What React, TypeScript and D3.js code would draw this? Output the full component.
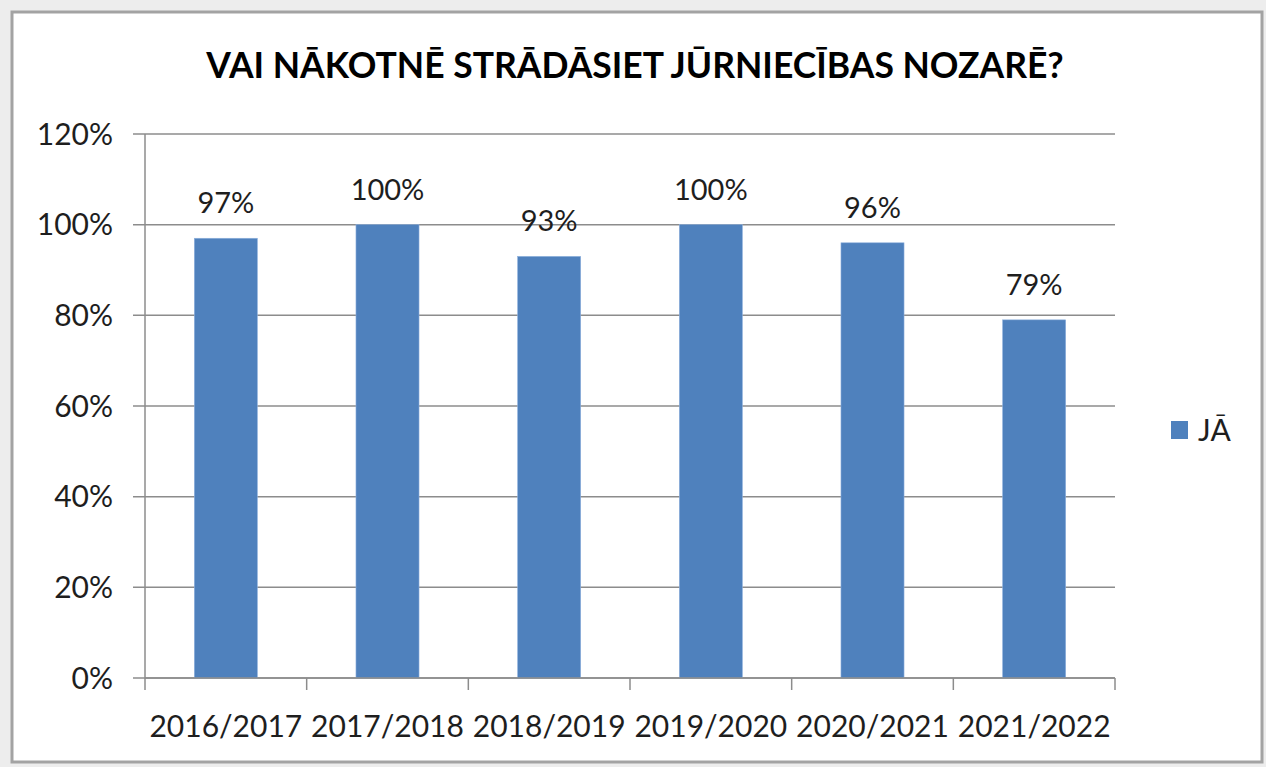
import React from "react";
import * as d3 from "d3";

const categories = ["2016/2017", "2017/2018", "2018/2019", "2019/2020", "2020/2021", "2021/2022"];
const valuesJa = [0.97, 1.0, 0.93, 1.0, 0.96, 0.79];
const yTicks = [0, 0.2, 0.4, 0.6, 0.8, 1.0, 1.2];
const seriesName = "JĀ";
const title = "VAI NĀKOTNĒ STRĀDĀSIET JŪRNIECĪBAS NOZARĒ?";

const width = 1266;
const height = 767;
const margin = { top: 134, right: 151, bottom: 89, left: 145 };
const font = "Lato, Carlito, 'Open Sans', sans-serif";
const barColor = "#4f81bd";
const gridColor = "#8c8c8c";
const textColor = "#1e1e1e";

const App: React.FC = () => {
  const x = d3
    .scaleBand()
    .domain(categories)
    .range([margin.left, width - margin.right])
    .paddingInner(0.61)
    .paddingOuter(0.305);

  const y = d3
    .scaleLinear()
    .domain([0, 1.2])
    .range([height - margin.bottom, margin.top]);

  const step = x.step();
  const fmt = d3.format(".0%");
  const x0 = margin.left;
  const x1 = width - margin.right;
  const yBase = y(0);

  return (
    <svg
      width={width}
      height={height}
      style={{ position: "absolute", left: 0, top: 0, background: "#ededed" }}
    >
      <rect x={12} y={12} width={1250} height={750} fill="#ffffff" stroke="#a3a3a3" strokeWidth={3} />

      <text
        x={635}
        y={78}
        textAnchor="middle"
        fontFamily={font}
        fontWeight="bold"
        fontSize={35.5}
        fill="#000"
      >
        {title}
      </text>

      {/* gridlines + y tick labels */}
      {yTicks.map((t) => (
        <g key={t}>
          <line x1={x0 - 12} x2={x1} y1={y(t)} y2={y(t)} stroke={gridColor} strokeWidth={1.5} />
          <text
            x={x0 - 32}
            y={y(t)}
            dy="0.36em"
            textAnchor="end"
            fontFamily={font}
            fontSize={30}
            fill={textColor}
          >
            {fmt(t)}
          </text>
        </g>
      ))}

      {/* y axis */}
      <line x1={x0} x2={x0} y1={y(1.2)} y2={yBase} stroke={gridColor} strokeWidth={1.5} />

      {/* bars */}
      {categories.map((c, i) => (
        <rect
          key={c}
          x={x(c)!}
          y={y(valuesJa[i])}
          width={x.bandwidth()}
          height={yBase - y(valuesJa[i])}
          fill={barColor}
          stroke="#8eb0dc"
          strokeWidth={0.6}
        />
      ))}

      {/* data labels */}
      {categories.map((c, i) => (
        <text
          key={c}
          x={x(c)! + x.bandwidth() / 2}
          y={y(valuesJa[i]) - 25}
          textAnchor="middle"
          fontFamily={font}
          fontSize={29}
          fill={textColor}
        >
          {fmt(valuesJa[i])}
        </text>
      ))}

      {/* x axis */}
      <line x1={x0} x2={x1} y1={yBase} y2={yBase} stroke={gridColor} strokeWidth={1.5} />
      {d3.range(categories.length + 1).map((k) => (
        <line
          key={k}
          x1={x0 + k * step}
          x2={x0 + k * step}
          y1={yBase}
          y2={yBase + 12}
          stroke={gridColor}
          strokeWidth={1.5}
        />
      ))}
      {categories.map((c) => (
        <text
          key={c}
          x={x(c)! + x.bandwidth() / 2}
          y={737}
          textAnchor="middle"
          fontFamily={font}
          fontSize={30}
          fill={textColor}
        >
          {c}
        </text>
      ))}

      {/* legend */}
      <rect x={1171} y={421} width={17} height={18} fill={barColor} />
      <text x={1198} y={441} fontFamily={font} fontSize={30} fill={textColor}>
        {seriesName}
      </text>
    </svg>
  );
};

export default App;
